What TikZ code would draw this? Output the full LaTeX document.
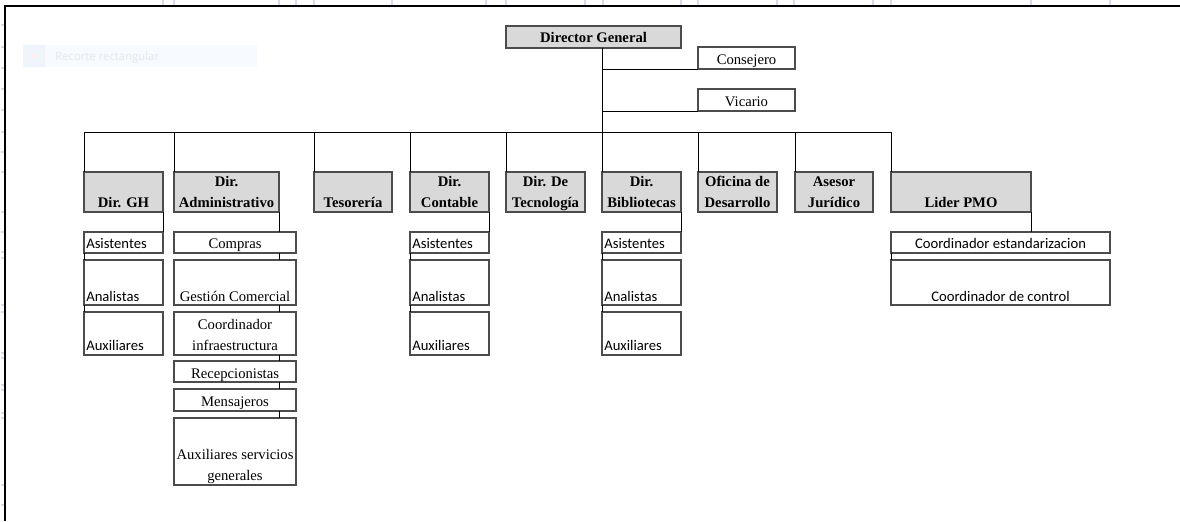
\documentclass[tikz,border=0pt]{standalone}
\usepackage{fontspec}
\setmainfont{Liberation Serif}
\newfontfamily\calibfont{Carlito}
\newfontfamily\uifont{Open Sans}
\definecolor{headgray}{HTML}{D9D9D9}
\definecolor{tickcol}{RGB}{218,218,236}
\definecolor{ghostbg}{RGB}{247,250,254}
\definecolor{ghosticon}{RGB}{240,245,252}
\definecolor{ghosttext}{RGB}{228,230,236}
% box from its corners, in pixel units
\newcommand\obox[6]{%
  \pgfmathsetmacro\oboxw{(#5-#3)*0.75}%
  \pgfmathsetmacro\oboxh{(#6-#4)*0.75}%
  \node[#2, minimum width=\oboxw pt, minimum height=\oboxh pt] (#1) at ({(#3+#5)/2},{(#4+#6)/2}) {};}
\begin{document}
\begin{tikzpicture}[x=0.75pt,y=-0.75pt,
  box/.style={draw=black!70, line width=0.8pt, inner sep=0pt, outer sep=0pt},
  head/.style={box, fill=headgray},
  sub/.style={box, fill=white},
  link/.style={draw=black, line width=0.75pt},
  ttl/.style={font=\fontsize{11}{13}\selectfont\bfseries, inner sep=0pt, anchor=base},
  srf/.style={font=\fontsize{11}{13}\selectfont, inner sep=0pt, anchor=base},
  cal/.style={font=\calibfont\fontsize{11}{13}\selectfont, inner sep=0pt, anchor=base west},
  calmid/.style={cal, anchor=base},
]
\useasboundingbox[fill=white] (0,0) rectangle (1180,521);

% sheet grid ticks and frame
\foreach \gx in {163,174,279,296,314,392,486,506,585,603,681,698,777,794,873,891,1031,1110}
  \draw[tickcol, line width=0.8pt] (\gx,0) -- (\gx,5);
\foreach \gy in {25,47,68,89,110,132,152,172,212,232,252,258,305,312,353,358,385,390,413,418,485,505}
  \draw[tickcol, line width=0.8pt] (1,\gy) -- (4,\gy);
\draw[line width=1.1pt] (1180,6) -- (5,6) -- (5,521);

% faint tool tip
\fill[ghostbg] (23,45) rectangle (257,67);
\fill[ghosticon] (23,45) rectangle (45,67);
\fill[red!6] (34,56) circle (2.5);
\node[font=\uifont\fontsize{8.5}{10}\selectfont, text=ghosttext, inner sep=0pt, anchor=base west] (tip) at (55,60) {Recorte rectangular};

% top level
\obox{dg}{head}{506}{26}{681}{48}
\obox{cons}{sub}{698}{47}{795}{69}
\obox{vic}{sub}{698}{89}{795}{111}

% directors
\obox{gh}{head}{84}{172}{163}{212}
\obox{adm}{head}{174}{172}{279}{212}
\obox{tes}{head}{314}{172}{392}{212}
\obox{cont}{head}{410}{172}{489}{212}
\obox{tec}{head}{506}{172}{585}{212}
\obox{bib}{head}{602}{172}{681}{212}
\obox{ofi}{head}{698}{172}{777}{212}
\obox{ase}{head}{795}{172}{873}{212}
\obox{pmo}{head}{891}{172}{1031}{212}

% staff boxes
\obox{gh1}{sub}{84}{232}{163}{253}
\obox{gh2}{sub}{84}{260}{163}{305}
\obox{gh3}{sub}{84}{312}{163}{355}
\obox{adm1}{sub}{174}{232}{296}{253}
\obox{adm2}{sub}{174}{260}{296}{305}
\obox{adm3}{sub}{174}{312}{296}{355}
\obox{adm4}{sub}{174}{361}{296}{382}
\obox{adm5}{sub}{174}{389}{296}{411}
\obox{adm6}{sub}{174}{418}{296}{485}
\obox{cont1}{sub}{410}{232}{489}{253}
\obox{cont2}{sub}{410}{260}{489}{305}
\obox{cont3}{sub}{410}{312}{489}{355}
\obox{bib1}{sub}{602}{232}{681}{253}
\obox{bib2}{sub}{602}{260}{681}{305}
\obox{bib3}{sub}{602}{312}{681}{355}
\obox{pmo1}{sub}{891}{232}{1110}{253}
\obox{pmo2}{sub}{891}{260}{1110}{305}

% labels
\node[ttl] (dg-t) at (593.5,42.5) {Director General};
\node[srf] (cons-t) at (746.5,64) {Consejero};
\node[srf] (vic-t) at (746.5,106) {Vicario};

\node[ttl] (gh-t) at (123.5,207) {Dir. GH};
\node[ttl] (adm-t1) at (226.5,186) {Dir.};
\node[ttl] (adm-t2) at (226.5,207) {Administrativo};
\node[ttl] (tes-t) at (353,207) {Tesorería};
\node[ttl] (cont-t1) at (449.5,186) {Dir.};
\node[ttl] (cont-t2) at (449.5,207) {Contable};
\node[ttl] (tec-t1) at (545.5,186) {Dir. De};
\node[ttl] (tec-t2) at (545.5,207) {Tecnología};
\node[ttl] (bib-t1) at (641.5,186) {Dir.};
\node[ttl] (bib-t2) at (641.5,207) {Bibliotecas};
\node[ttl] (ofi-t1) at (737.5,186) {Oficina de};
\node[ttl] (ofi-t2) at (737.5,207) {Desarrollo};
\node[ttl] (ase-t1) at (834,186) {Asesor};
\node[ttl] (ase-t2) at (834,207) {Jurídico};
\node[ttl] (pmo-t) at (961,207) {Lider PMO};

\foreach \b/\x in {gh/86,cont/412,bib/604}{
  \node[cal] (\b1-t) at (\x,248) {Asistentes};
  \node[cal] (\b2-t) at (\x,301) {Analistas};
  \node[cal] (\b3-t) at (\x,350) {Auxiliares};
}

\node[srf] (adm1-t) at (235,248) {Compras};
\node[srf] (adm2-t) at (235,301) {Gestión Comercial};
\node[srf] (adm3-t1) at (235,329) {Coordinador};
\node[srf] (adm3-t2) at (235,350) {infraestructura};
\node[srf] (adm4-t) at (235,378) {Recepcionistas};
\node[srf] (adm5-t) at (235,406) {Mensajeros};
\node[srf] (adm6-t1) at (235,459) {Auxiliares servicios};
\node[srf] (adm6-t2) at (235,480) {generales};

\node[calmid] (pmo1-t) at (1000.5,248) {Coordinador estandarizacion};
\node[calmid] (pmo2-t) at (1000.5,301) {Coordinador de control};

% connectors
\coordinate (bar) at (0,132);
\draw[link] (dg.south -| bib.north west) -- (bib.north west);
\draw[link] (cons.south west) -- (cons.south west -| bib.north west);
\draw[link] (vic.south west) -- (vic.south west -| bib.north west);
\draw[link] (gh.north west |- bar) -- (pmo.north west |- bar);
\foreach \n in {gh,adm,tes,cont,tec,ofi,ase,pmo}
  \draw[link] (\n.north west |- bar) -- (\n.north west);

\foreach \n in {gh,cont,bib}{
  \draw[link] (\n.south east) -- (\n.south east |- \n1.north);
  \draw[link] (\n1.south west) -- (\n2.north west);
  \draw[link] (\n2.south west) -- (\n3.north west);
}
\draw[link] (adm.south east) -- (adm.south east |- adm1.north);
\foreach \a/\b in {adm1/adm2,adm2/adm3,adm3/adm4,adm4/adm5,adm5/adm6}
  \draw[link] (adm.south east |- \a.south) -- (adm.south east |- \b.north);
\draw[link] (pmo.south east) -- (pmo.south east |- pmo1.north);
\draw[link] (pmo1.south west) -- (pmo2.north west);
\end{tikzpicture}
\end{document}
